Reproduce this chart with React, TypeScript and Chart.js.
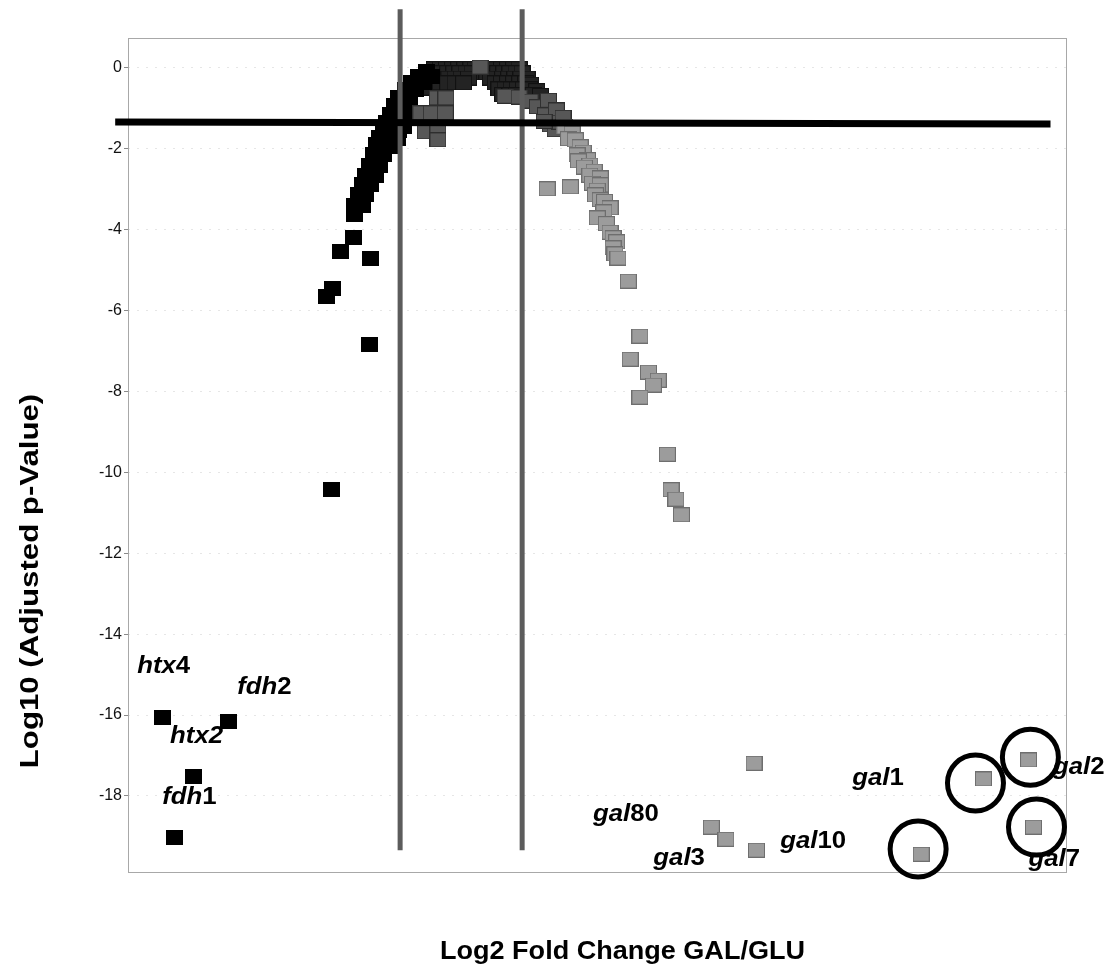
import React, { useEffect, useRef } from "react";
import { Chart, registerables } from "chart.js";

Chart.register(...registerables);

type P = [number, number];

const FONT = "'Liberation Sans', Arial, Helvetica, sans-serif";

// axis ranges (log2 fold change, log10 adjusted p)
const X_MIN = -5.46;
const X_MAX = 9.93;
const Y_MIN = -19.88;
const Y_MAX = 0.74;
const Y_TICKS = [0, -2, -4, -6, -8, -10, -12, -14, -16, -18];

const X_TITLE = "Log2 Fold Change GAL/GLU";
const Y_TITLE = "Log10 (Adjusted p-Value)";

// down-regulated genes (black)
const downRegulated: P[] = [
  [-1.74, -3.63], [-1.74, -3.39], [-1.62, -3.39], [-1.69, -3.14], [-1.56, -3.14],
  [-1.62, -2.89], [-1.49, -2.89], [-1.57, -2.65], [-1.41, -2.65], [-1.51, -2.4],
  [-1.34, -2.4], [-1.44, -2.15], [-1.28, -2.15], [-1.38, -1.9], [-1.2, -1.9],
  [-1.33, -1.73], [-1.13, -1.73], [-1.28, -1.53], [-1.1, -1.53], [-1.23, -1.34],
  [-1.05, -1.34], [-1.16, -1.14], [-1.0, -1.14], [-1.1, -0.94], [-0.93, -0.94],
  [-1.02, -0.74], [-0.85, -0.74], [-0.92, -0.54], [-0.75, -0.54], [-0.82, -0.37],
  [-0.62, -0.37], [-0.7, -0.22], [-0.49, -0.22], [-0.57, -0.1],
  [-1.0, -1.3], [-1.02, -1.55], [-1.05, -1.75], [-1.12, -1.95],
  [-0.9, -1.2], [-0.88, -0.85], [-0.95, -1.45],
  [-1.77, -4.2], [-1.98, -4.55], [-1.49, -4.72], [-2.11, -5.46], [-2.2, -5.66],
  [-1.51, -6.83], [-2.13, -10.43],
  [-4.89, -16.05], [-3.82, -16.15], [-4.39, -17.53], [-4.7, -19.02],
];

// unchanged genes, dark
const unchangedDark: P[] = [
  [-0.44, -0.02], [-0.34, -0.02], [-0.24, -0.02], [-0.14, -0.02], [-0.04, -0.02],
  [0.06, -0.02], [0.16, -0.02], [0.23, -0.02], [0.4, -0.02], [0.48, -0.02],
  [0.56, -0.02], [0.66, -0.02], [0.76, -0.02], [0.86, -0.02], [0.95, -0.02],
  [-0.52, -0.12], [-0.42, -0.12], [-0.32, -0.12], [-0.22, -0.12], [-0.12, -0.12],
  [-0.02, -0.12], [0.08, -0.12], [0.18, -0.12], [0.42, -0.12], [0.5, -0.12],
  [0.6, -0.12], [0.7, -0.12], [0.8, -0.12], [0.9, -0.12], [1.0, -0.12],
  [-0.6, -0.25], [-0.5, -0.25], [-0.4, -0.25], [-0.3, -0.25], [-0.2, -0.25],
  [-0.1, -0.25], [0.0, -0.25], [0.12, -0.25], [0.48, -0.25], [0.58, -0.25],
  [0.68, -0.25], [0.78, -0.25], [0.88, -0.25], [0.98, -0.25], [1.08, -0.25],
  [-0.7, -0.37], [-0.58, -0.37], [-0.46, -0.37], [-0.34, -0.37], [-0.22, -0.37],
  [-0.1, -0.37], [0.04, -0.37], [0.56, -0.37], [0.66, -0.37], [0.76, -0.37],
  [0.86, -0.37], [0.96, -0.37], [1.06, -0.37], [1.14, -0.4],
  [-0.7, -0.52], [-0.6, -0.5],
  [0.62, -0.52], [0.72, -0.52], [0.82, -0.52], [0.92, -0.52], [1.02, -0.52],
  [1.12, -0.52], [1.24, -0.56], [0.68, -0.66], [0.8, -0.66], [0.9, -0.66],
  [1.18, -0.66], [1.3, -0.68],
];

// unchanged / borderline genes, mid grey
const unchangedMid: P[] = [
  [0.31, 0.02],
  [-0.39, -0.74], [-0.25, -0.74], [-0.66, -1.11], [-0.49, -1.11], [-0.26, -1.11],
  [-0.59, -1.58], [-0.38, -1.58], [-0.38, -1.78],
  [0.72, -0.7], [0.95, -0.72], [1.13, -0.82], [1.25, -0.96], [1.38, -1.16],
  [1.43, -0.8], [1.56, -1.04], [1.46, -1.41], [1.54, -1.53], [1.62, -1.34],
  [1.67, -1.22], [1.36, -1.32],
];

// up-regulated genes (light grey)
const upRegulated: P[] = [
  [1.7, -1.46], [1.82, -1.61], [1.76, -1.75], [1.87, -1.78], [1.95, -1.95],
  [2.0, -2.08], [1.9, -2.15], [2.07, -2.27], [1.92, -2.3], [2.11, -2.4],
  [2.02, -2.45], [2.18, -2.55], [2.11, -2.65], [2.28, -2.72], [2.15, -2.85],
  [2.28, -2.89], [2.23, -3.02], [2.2, -3.14], [2.28, -3.26], [2.35, -3.3],
  [2.44, -3.46], [2.34, -3.56], [2.23, -3.71], [2.38, -3.85], [2.44, -4.06],
  [2.49, -4.2], [2.55, -4.3], [2.49, -4.45], [2.52, -4.6], [2.57, -4.7],
  [1.41, -2.99], [1.79, -2.94],
  [2.74, -5.27], [2.93, -6.63], [2.77, -7.2], [3.07, -7.52], [3.23, -7.72],
  [3.15, -7.84], [2.93, -8.14], [3.38, -9.55], [3.44, -10.43], [3.52, -10.66],
  [3.61, -11.05],
  [4.8, -17.19], [4.1, -18.77], [4.34, -19.07], [4.84, -19.34],
  [7.54, -19.44], [8.56, -17.58], [9.3, -17.11], [9.38, -18.77],
];

// threshold annotations
const FOLD_CUTOFFS = [-1, 1];
const FOLD_LINE_SPAN: P = [1.45, -19.34];
const P_CUTOFF_LINE: P[] = [[-5.67, -1.335], [9.66, -1.385]];

// highlighted genes (circles)
const CIRCLED: P[] = [[9.33, -17.04], [8.43, -17.68], [9.43, -18.77], [7.49, -19.31]];

// gene labels: italic gene stem + number
const GENE_LABELS = [
  { stem: "htx", num: "4", x: -5.31, y: -14.81, allItalic: false },
  { stem: "fdh", num: "2", x: -3.67, y: -15.33, allItalic: false },
  { stem: "htx", num: "2", x: -4.77, y: -16.54, allItalic: true },
  { stem: "fdh", num: "1", x: -4.9, y: -18.05, allItalic: false },
  { stem: "gal", num: "80", x: 2.16, y: -18.47, allItalic: false },
  { stem: "gal", num: "3", x: 3.15, y: -19.56, allItalic: false },
  { stem: "gal", num: "10", x: 5.23, y: -19.12, allItalic: false },
  { stem: "gal", num: "1", x: 6.41, y: -17.58, allItalic: false },
  { stem: "gal", num: "2", x: 9.7, y: -17.31, allItalic: false },
  { stem: "gal", num: "7", x: 9.3, y: -19.58, allItalic: false },
];

function makeSquare(fill: string, stroke: string): HTMLCanvasElement {
  const c = document.createElement("canvas");
  c.width = 17;
  c.height = 15;
  const g = c.getContext("2d")!;
  g.fillStyle = fill;
  g.fillRect(0, 0, 17, 15);
  g.strokeStyle = stroke;
  g.lineWidth = 1;
  g.strokeRect(0.5, 0.5, 16, 14);
  return c;
}

const toXY = (pts: P[]) => pts.map(([x, y]) => ({ x, y }));

const overlayPlugin = {
  id: "overlay",
  beforeDatasetsDraw(chart: any) {
    const { ctx, chartArea: a } = chart;
    ctx.save();
    ctx.strokeStyle = "#a8a8a8";
    ctx.lineWidth = 1;
    ctx.strokeRect(a.left + 0.5, a.top + 0.5, a.right - a.left - 1, a.bottom - a.top);
    ctx.restore();
  },
  afterDatasetsDraw(chart: any) {
    const { ctx } = chart;
    const xs = chart.scales.x;
    const ys = chart.scales.y;
    ctx.save();
    // fold-change cutoffs
    ctx.strokeStyle = "#5c5c5c";
    ctx.lineWidth = 5;
    for (const fc of FOLD_CUTOFFS) {
      const px = xs.getPixelForValue(fc);
      ctx.beginPath();
      ctx.moveTo(px, ys.getPixelForValue(FOLD_LINE_SPAN[0]));
      ctx.lineTo(px, ys.getPixelForValue(FOLD_LINE_SPAN[1]));
      ctx.stroke();
    }
    // p-value cutoff
    ctx.strokeStyle = "#000";
    ctx.lineWidth = 7;
    ctx.beginPath();
    ctx.moveTo(xs.getPixelForValue(P_CUTOFF_LINE[0][0]), ys.getPixelForValue(P_CUTOFF_LINE[0][1]));
    ctx.lineTo(xs.getPixelForValue(P_CUTOFF_LINE[1][0]), ys.getPixelForValue(P_CUTOFF_LINE[1][1]));
    ctx.stroke();
    // circles
    ctx.lineWidth = 5;
    for (const [cx, cy] of CIRCLED) {
      ctx.beginPath();
      ctx.arc(xs.getPixelForValue(cx), ys.getPixelForValue(cy), 28, 0, Math.PI * 2);
      ctx.stroke();
    }
    // gene labels
    ctx.fillStyle = "#000";
    ctx.textBaseline = "middle";
    ctx.textAlign = "left";
    for (const g of GENE_LABELS) {
      const px = xs.getPixelForValue(g.x);
      const py = ys.getPixelForValue(g.y);
      ctx.save();
      ctx.translate(px, py);
      ctx.scale(1.12, 1);
      ctx.font = `italic bold 23px ${FONT}`;
      ctx.fillText(g.stem, 0, 0);
      const w = ctx.measureText(g.stem).width;
      ctx.font = `${g.allItalic ? "italic " : ""}bold 23px ${FONT}`;
      ctx.fillText(g.num, w, 0);
      ctx.restore();
    }
    ctx.restore();
  },
  afterDraw(chart: any) {
    const { ctx, chartArea: a } = chart;
    ctx.save();
    ctx.fillStyle = "#000";
    // x title
    ctx.font = `bold 26px ${FONT}`;
    ctx.textAlign = "center";
    ctx.textBaseline = "alphabetic";
    ctx.save();
    ctx.translate((a.left + a.right) / 2 + 25, a.bottom + 87);
    ctx.scale(1.04, 1);
    ctx.fillText(X_TITLE, 0, 0);
    ctx.restore();
    // y title
    ctx.save();
    ctx.translate(38, (a.top + a.bottom) / 2 + 126);
    ctx.rotate(-Math.PI / 2);
    ctx.scale(1.2, 1);
    ctx.fillText(Y_TITLE, 0, 0);
    ctx.restore();
    ctx.restore();
  },
};

export default function App() {
  const ref = useRef<HTMLCanvasElement | null>(null);

  useEffect(() => {
    if (!ref.current) return;
    const sqBlack = makeSquare("#000000", "#000000");
    const sqDark = makeSquare("#232323", "#111111");
    const sqMid = makeSquare("#575757", "#2e2e2e");
    const sqLight = makeSquare("#9c9c9c", "#6e6e6e");

    const chart = new Chart(ref.current, {
      type: "scatter",
      data: {
        datasets: [
          { label: "up", data: toXY(upRegulated), pointStyle: sqLight as any, pointRadius: 8 },
          { label: "mid", data: toXY(unchangedMid), pointStyle: sqMid as any, pointRadius: 8 },
          { label: "down", data: toXY(downRegulated), pointStyle: sqBlack as any, pointRadius: 8 },
          { label: "dark", data: toXY(unchangedDark), pointStyle: sqDark as any, pointRadius: 8 },
        ],
      },
      options: {
        responsive: false,
        animation: false,
        events: [],
        layout: { padding: { top: 38, right: 42, left: 0, bottom: 0 } },
        plugins: { legend: { display: false }, tooltip: { enabled: false } },
        scales: {
          x: {
            type: "linear",
            min: X_MIN,
            max: X_MAX,
            grid: { display: false },
            border: { display: false },
            ticks: { display: false },
            afterFit: (s: any) => {
              s.height = 94;
            },
          },
          y: {
            type: "linear",
            min: Y_MIN,
            max: Y_MAX,
            afterBuildTicks: (s: any) => {
              s.ticks = Y_TICKS.map((v) => ({ value: v }));
            },
            afterFit: (s: any) => {
              s.width = 128;
            },
            grid: {
              color: "#e6e6e6",
              lineWidth: 1,
              drawTicks: true,
              tickLength: 4,
              tickColor: "#8a8a8a",
              tickBorderDash: [],
            },
            border: { display: false, dash: [2, 7] },
            ticks: {
              padding: 2,
              color: "#111",
              font: { family: FONT, size: 16 },
              callback: (v: any) => String(v),
            },
          },
        },
      },
      plugins: [overlayPlugin],
    } as any);
    return () => chart.destroy();
  }, []);

  return (
    <div style={{ position: "absolute", left: 0, top: 0, width: 1109, height: 966, background: "#fff" }}>
      <canvas ref={ref} width={1109} height={966} style={{ width: 1109, height: 966, display: "block" }} />
    </div>
  );
}
